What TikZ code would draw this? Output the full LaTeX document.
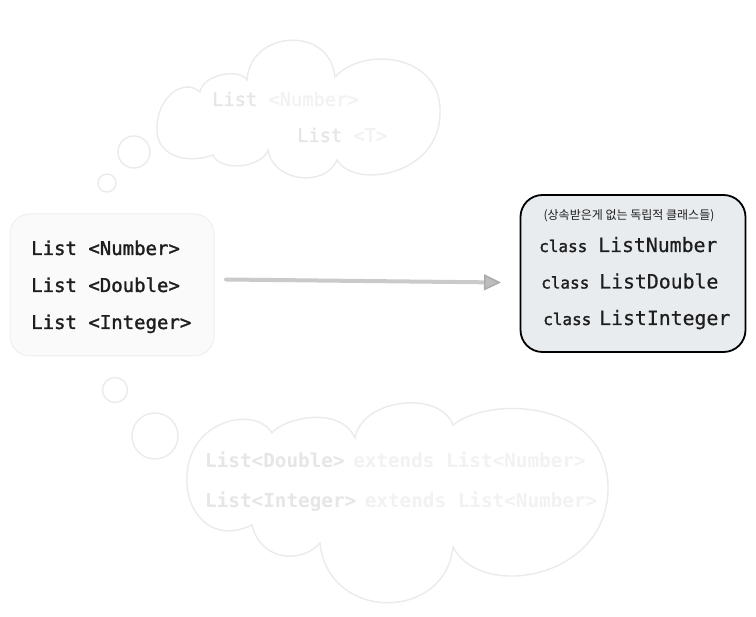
\documentclass[tikz,border=0pt]{standalone}
\usepackage{fontspec}
\setmonofont{DejaVu Sans Mono}
\newfontfamily\codesemi{DejaVu Sans Mono}[FakeBold=1.6]
\newfontfamily\codelight{DejaVu Sans Mono}[FakeBold=0.6]
\newfontfamily\krfont{Noto Sans CJK KR}
\usetikzlibrary{arrows.meta}
\definecolor{cloudline}{HTML}{EBEBEB}
\definecolor{fadeA}{HTML}{E6E6E6}
\definecolor{fadeB}{HTML}{F2F2F2}
\definecolor{leftfill}{HTML}{FAFAFA}
\definecolor{leftline}{HTML}{EFEFEF}
\definecolor{rightfill}{HTML}{E9ECEF}
\definecolor{arrowline}{HTML}{CACACA}
\definecolor{tipfill}{HTML}{BDBDBD}
\definecolor{tipline}{HTML}{ACACAC}
\definecolor{txt}{HTML}{1E1E1E}
\tikzset{
  cloudstroke/.style={draw=cloudline, line width=1.4pt},
  bigcode/.style={font=\codesemi\fontsize{19}{19}\selectfont, text=txt, anchor=base west, inner sep=0pt},
  fadecode/.style={font=\ttfamily\bfseries\fontsize{19.3}{19}\selectfont, anchor=base west, inner sep=0pt},
  topcode/.style={font=\codesemi\fontsize{18.7}{19}\selectfont, anchor=base west, inner sep=0pt},
  clsword/.style={font=\codesemi\fontsize{16}{16}\selectfont, text=txt, anchor=base west, inner sep=0pt},
  clsname/.style={font=\codelight\fontsize{19.8}{20}\selectfont, text=txt, anchor=base west, inner sep=0pt},
}
\begin{document}
\begin{tikzpicture}[x=1pt,y=-1pt]
\useasboundingbox[fill=white] (0,0) rectangle (756,617);

% top thought cloud
\draw[cloudstroke] (200,92) .. controls (203,74) and (240,68) .. (247,80)
  .. controls (250,30) and (330,25) .. (335,77)
  .. controls (365,45) and (442,55) .. (440,113)
  .. controls (440,175) and (355,190) .. (337,160)
  .. controls (325,188) and (273,182) .. (268,150)
  .. controls (262,168) and (220,172) .. (213,155)
  .. controls (185,165) and (155,155) .. (157,127)
  .. controls (158,95) and (185,78) .. cycle;
\node[cloudstroke, circle, minimum size=32pt, inner sep=0pt] (tc1) at (134,152) {};
\node[cloudstroke, circle, minimum size=18pt, inner sep=0pt] (tc2) at (107,183) {};
\node[topcode] (t1) at (212,106) {\textcolor{fadeA}{List} \textcolor{fadeB}{<Number>}};
\node[topcode] (t2) at (297,142) {\textcolor{fadeA}{List} \textcolor{fadeB}{<T>}};

% bottom thought cloud
\draw[cloudstroke] (272,433) .. controls (284,418) and (340,405) .. (355,438)
  .. controls (362,398) and (440,390) .. (453,425)
  .. controls (490,395) and (610,400) .. (608,490)
  .. controls (606,580) and (480,600) .. (453,547)
  .. controls (445,622) and (328,622) .. (320,543)
  .. controls (300,565) and (260,560) .. (252,525)
  .. controls (210,545) and (185,510) .. (187,477)
  .. controls (188,420) and (255,405) .. cycle;
\node[cloudstroke, circle, minimum size=25pt, inner sep=0pt] (bc1) at (115,390) {};
\node[cloudstroke, circle, minimum size=46pt, inner sep=0pt] (bc2) at (155,436) {};
\node[fadecode] (b1) at (205,468) {\textcolor{fadeA}{List<Double>}\hspace{-3pt} \textcolor{fadeB}{extends List<Number>}};
\node[fadecode] (b2) at (205,508) {\textcolor{fadeA}{List<Integer>}\hspace{-3pt} \textcolor{fadeB}{extends List<Number>}};

% left box
\node[draw=leftline, fill=leftfill, line width=1pt, rounded corners=20pt,
      minimum width=204pt, minimum height=142pt, inner sep=0pt] (left) at (112,285) {};
\node[bigcode] (l1) at (31,255) {List <Number>};
\node[bigcode] (l2) at (31,292) {List <Double>};
\node[bigcode] (l3) at (31,329) {List <Integer>};

% right box
\node[draw=black, fill=rightfill, line width=1.8pt, rounded corners=22pt,
      minimum width=225pt, minimum height=157pt, inner sep=0pt] (right) at (633,273.5) {};
\node[font=\krfont\fontsize{12}{12}\selectfont, text=txt, inner sep=0pt] (kr) at (629,216) {(상속받은게 없는 독립적 클래스들)};
\node[clsword] (c1) at (539,252) {class};
\node[clsname] (n1) at (598,252) {ListNumber};
\node[clsword] (c2) at (541,288.5) {class};
\node[clsname] (n2) at (599,288.5) {ListDouble};
\node[clsword] (c3) at (543,325) {class};
\node[clsname] (n3) at (599,325) {ListInteger};

% arrow
\coordinate (as) at (226,279.5);
\coordinate (ae) at (501,282.5);
\draw[draw=arrowline, line width=4pt, line cap=round,
      -{Triangle[length=17pt,width=16pt,color=tipline,fill=tipfill,line width=1.5pt]}] (as) -- (ae);
\end{tikzpicture}
\end{document}
